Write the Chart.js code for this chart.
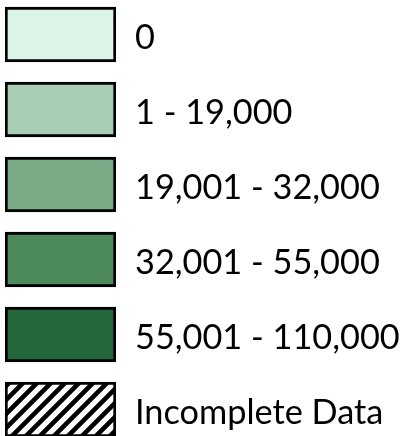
<!DOCTYPE html>
<html>
<head>
<meta charset="utf-8">
<script src="https://cdn.jsdelivr.net/npm/chart.js@4.4.0/dist/chart.umd.min.js"></script>
<style>
  html, body { margin: 0; padding: 0; background: #fff; }
  #wrap { width: 409px; height: 436px; }
</style>
</head>
<body>
<div id="wrap"><canvas id="legend-canvas"></canvas></div>
<script>
// legend classes (top to bottom)
var classLabels = ["0", "1 - 19,000", "19,001 - 32,000", "32,001 - 55,000", "55,001 - 110,000", "Incomplete Data"];
var classRows = [0, 1, 2, 3, 4, 5];
var classColors = ["#dcf3e8", "#a8cfb3", "#79ab86", "#4c895b", "#24673a", "hatch"];

// diagonal hatch for the "incomplete" swatch
function makeHatch() {
    var size = 14;
    var c = document.createElement("canvas");
    c.width = size;
    c.height = size;
    var g = c.getContext("2d");
    g.fillStyle = "#fff";
    g.fillRect(0, 0, size, size);
    g.strokeStyle = "#000";
    g.lineWidth = 4.6;
    g.beginPath();
    g.moveTo(-2, 2); g.lineTo(2, -2);                       // x+y = 0
    g.moveTo(-2, size + 2); g.lineTo(size + 2, -2);         // x+y = size
    g.moveTo(size - 2, size + 2); g.lineTo(size + 2, size - 2); // x+y = 2*size
    g.stroke();
    return g.createPattern(c, "repeat");
}

var ctx = document.getElementById("legend-canvas");

var data = {
    labels: classLabels,
    datasets: [
        {
            label: "classes",
            data: classRows.map(function (r) { return { x: [0, 1], y: r }; }),
            backgroundColor: classColors.map(function (c) { return c === "hatch" ? makeHatch() : c; }),
            borderColor: "#000",
            borderWidth: 3,
            borderSkipped: false,
            barThickness: 55
        }
    ]
};

var yMin = -0.46, yMax = 5.353;

var options = {
    indexAxis: "y",
    responsive: true,
    maintainAspectRatio: false,
    animation: false,
    layout: { padding: { left: 5, right: 0, top: 0, bottom: 0 } },
    plugins: {
        legend: { display: false },
        tooltip: { enabled: false }
    },
    scales: {
        x: {
            type: "linear",
            display: false,
            min: 0,
            max: 1
        },
        y: {
            type: "linear",
            position: "right",
            reverse: true,
            offset: false,
            bounds: "data",
            min: yMin,
            max: yMax,
            grid: { display: false, drawTicks: false },
            border: { display: false },
            afterBuildTicks: function (scale) {
                scale.ticks = classRows.map(function (r) { return { value: r }; });
                scale.min = yMin;
                scale.max = yMax;
            },
            afterFit: function (scale) {
                scale.width = 293;
                scale.paddingTop = 0;
                scale.paddingBottom = 0;
            },
            ticks: {
                autoSkip: false,
                padding: 19,
                labelOffset: 3,
                color: "#000",
                font: { family: "Lato", size: 34.3 },
                callback: function (value) { return classLabels[value]; }
            }
        }
    }
};

var chart = new Chart(ctx, {
    type: "bar",
    data: data,
    options: options
});
</script>
</body>
</html>
